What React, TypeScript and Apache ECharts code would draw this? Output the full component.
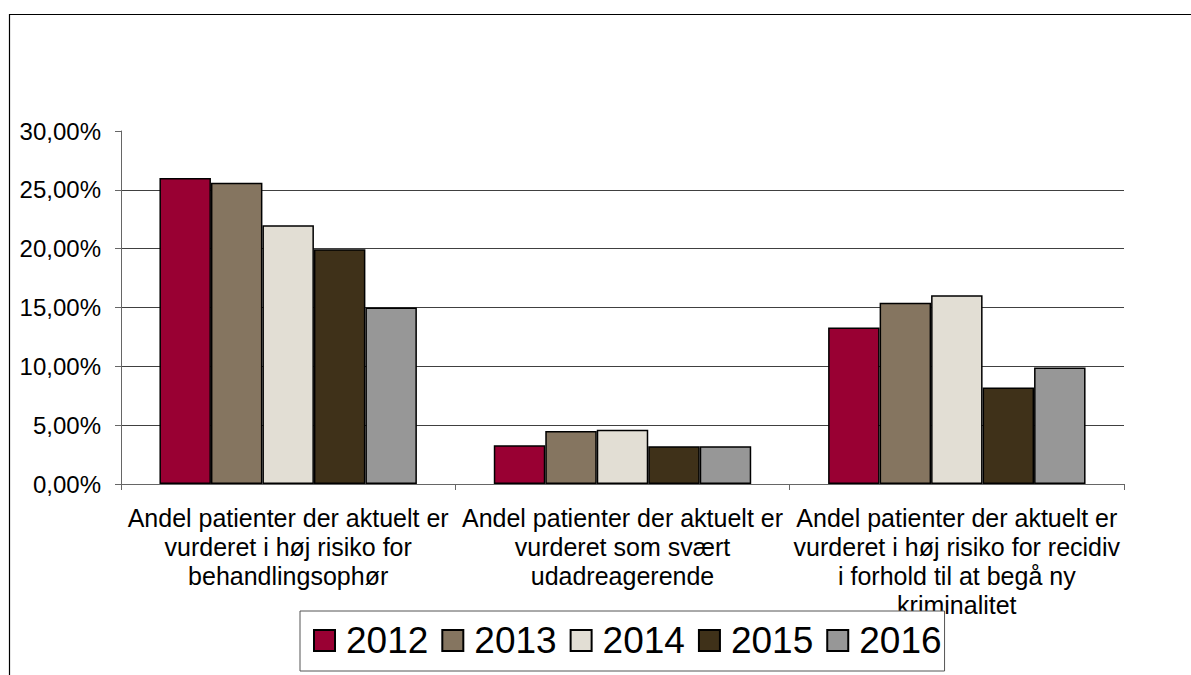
import React, { useEffect, useRef } from "react";
import * as echarts from "echarts";

const categories = [
  "Andel patienter der aktuelt er\nvurderet i høj risiko for\nbehandlingsophør",
  "Andel patienter der aktuelt er\nvurderet som svært\nudadreagerende",
  "Andel patienter der aktuelt er\nvurderet i høj risiko for recidiv\ni forhold til at begå ny\nkriminalitet",
];
const years = ["2012", "2013", "2014", "2015", "2016"];
const v2012 = [26.0, 3.3, 13.3];
const v2013 = [25.6, 4.5, 15.4];
const v2014 = [22.0, 4.6, 16.05];
const v2015 = [19.95, 3.2, 8.2];
const v2016 = [15.0, 3.2, 9.9];
const seriesValues = [v2012, v2013, v2014, v2015, v2016];
const colors = ["#990033", "#857560", "#E2DED4", "#3F3119", "#979797"];
const yTicks = { min: 0, max: 30, interval: 5 };

const FONT = "'Liberation Sans', Arial, sans-serif";

export default function App() {
  const ref = useRef<HTMLDivElement>(null);
  useEffect(() => {
    document.body.style.margin = "0";
    const chart = echarts.init(ref.current!, null, { renderer: "svg" });
    chart.setOption({
      animation: false,
      backgroundColor: "#ffffff",
      textStyle: { fontFamily: FONT },
      graphic: [
        {
          type: "rect",
          shape: { x: 9.5, y: 14.5, width: 1400, height: 900 },
          style: { fill: "none", stroke: "#000", lineWidth: 1.2 },
          silent: true,
          z: 0,
        },
      ],
      grid: { left: 121, right: 67, top: 131, bottom: 191, containLabel: false },
      legend: {
        data: years,
        left: 300,
        top: 611,
        orient: "horizontal",
        padding: [11, 3, 12, 13],
        itemGap: 13,
        itemWidth: 21,
        itemHeight: 21,
        icon: "rect",
        borderColor: "#555",
        borderWidth: 1,
        backgroundColor: "#fff",
        textStyle: { fontSize: 37, color: "#000", fontFamily: FONT, padding: [0, 0, 0, 6] },
        z: 10,
      },
      xAxis: {
        type: "category",
        data: categories,
        axisLine: { show: true, lineStyle: { color: "#666", width: 1 } },
        axisTick: { show: true, length: 6, alignWithLabel: false, lineStyle: { color: "#666" } },
        axisLabel: {
          interval: 0,
          fontSize: 25,
          lineHeight: 29,
          color: "#000",
          margin: 19,
          fontFamily: FONT,
        },
      },
      yAxis: {
        type: "value",
        min: yTicks.min,
        max: yTicks.max,
        interval: yTicks.interval,
        axisLine: { show: true, lineStyle: { color: "#666", width: 1 } },
        axisTick: { show: true, length: 6, lineStyle: { color: "#666" } },
        axisLabel: {
          fontSize: 24,
          color: "#000",
          margin: 20,
          fontFamily: FONT,
          formatter: (v: number) => v.toFixed(2).replace(".", ",") + "%",
        },
        splitLine: {
          show: true,
          showMaxLine: false,
          lineStyle: { color: "#404040", width: 1 },
        },
      },
      series: years.map((y, i) => ({
        name: y,
        type: "bar",
        data: seriesValues[i],
        barGap: "0%",
        barCategoryGap: "23%",
        itemStyle: { color: colors[i], borderColor: "#000", borderWidth: 1.5 },
      })),
    });
    return () => chart.dispose();
  }, []);
  return <div ref={ref} style={{ width: 1191, height: 675 }} />;
}
